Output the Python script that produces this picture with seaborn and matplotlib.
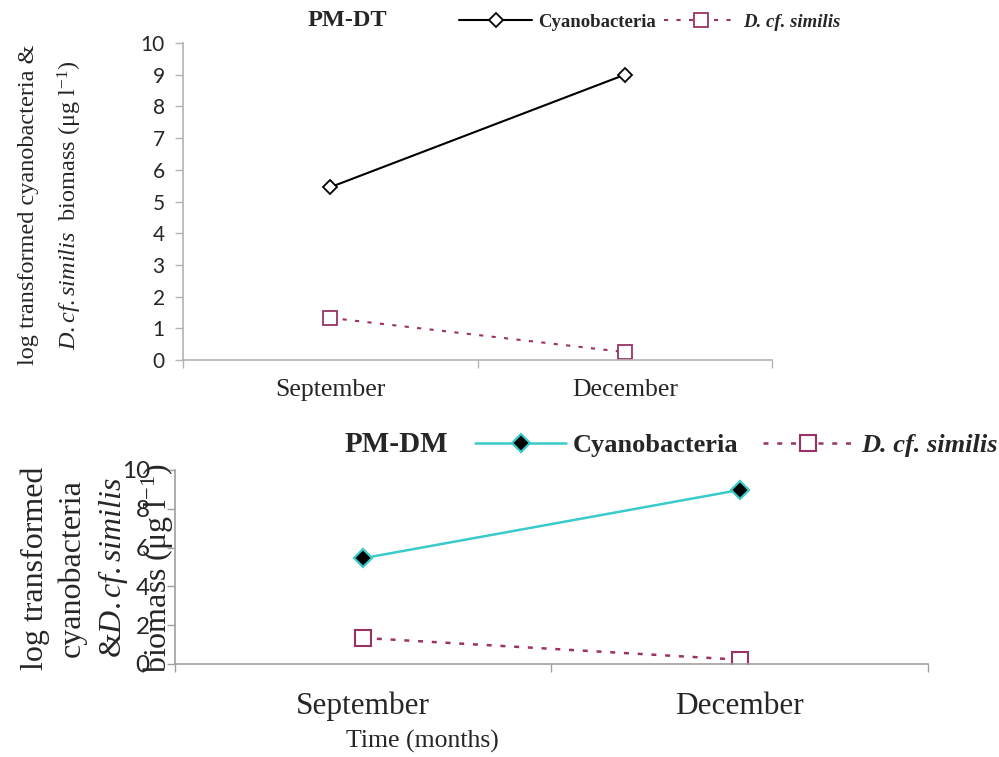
"""two panel line chart: cyanobacteria and D. cf. similis biomass, PM-DT and PM-DM"""

import pandas as pd
import seaborn as sns
import matplotlib.pyplot as plt

months = ["September", "December"]
dt_cyano = [5.45, 9.0]
dt_daphnia = [1.33, 0.25]
dm_cyano = [5.45, 8.97]
dm_daphnia = [1.34, 0.22]

SERIF = "Liberation Serif"
SANS = "Lato"
MAROON = "#993366"
CYAN = "#3ACACA"
AXIS_GRAY = "#b3b3b3"

sns.set_theme(style="white")
plt.rcParams["font.family"] = [SANS, "DejaVu Sans"]
plt.rcParams["mathtext.fontset"] = "custom"
plt.rcParams["mathtext.rm"] = SERIF
plt.rcParams["mathtext.it"] = SERIF + ":italic"


def frame(cyano, daphnia):
    x = [0, 1]
    return pd.DataFrame({"x": x, "month": months, "cyano": cyano, "daphnia": daphnia})


def style_axes(ax, tick_size, tick_pad, month_size, month_pad, ytick_step, spine_color):
    ax.set_xlim(-0.5, 1.5)
    ax.set_ylim(0, 10)
    ax.set_yticks(range(0, 11, ytick_step))
    ax.set_xticks([-0.5, 0.5, 1.5])
    ax.set_xticklabels([])
    ax.set_xticks([0, 1], minor=True)
    ax.set_xticklabels(months, minor=True, fontfamily=SERIF, fontsize=month_size)
    ax.tick_params(axis="x", which="minor", length=0, pad=month_pad)
    ax.tick_params(axis="x", which="major", direction="out", length=6, width=1,
                   color=spine_color, bottom=True)
    ax.tick_params(axis="y", direction="out", length=6, width=1, color=spine_color,
                   labelsize=tick_size, pad=tick_pad, left=True)
    for side in ["top", "right"]:
        ax.spines[side].set_visible(False)
    for side in ["left", "bottom"]:
        ax.spines[side].set_color(spine_color)
        ax.spines[side].set_linewidth(1.2)
    ax.set_xlabel("")
    ax.set_ylabel("")


fig = plt.figure(figsize=(9.99, 7.57), dpi=100)

# ---- top panel: PM-DT
ax1 = fig.add_axes([0.183, 0.5244, 0.590, 0.4188])
df1 = frame(dt_cyano, dt_daphnia)
sns.lineplot(data=df1, x="x", y="cyano", ax=ax1, color="black", linewidth=1.5,
             marker="D", markersize=7.5, markerfacecolor="white",
             markeredgecolor="black", markeredgewidth=1.3, label="Cyanobacteria")
sns.lineplot(data=df1, x="x", y="daphnia", ax=ax1, color=MAROON, linewidth=1.5,
             linestyle=(0, (2, 4)), marker="s", markersize=10,
             markerfacecolor="white", markeredgecolor=MAROON, markeredgewidth=1.3,
             label="D. cf. similis")
style_axes(ax1, 15, 7, 18.5, 14, 1, AXIS_GRAY)
leg1 = ax1.legend(loc="center left", bbox_to_anchor=(459 / 999, 1 - 22 / 757),
                  bbox_transform=fig.transFigure, ncol=2, frameon=False,
                  handlelength=3.9, handletextpad=0.3, columnspacing=0.45,
                  borderpad=0, borderaxespad=0,
                  prop={"family": SERIF, "weight": "bold", "size": 13.5})
leg1.get_texts()[1].set_style("italic")
fig.text(347 / 999, 1 - 20 / 757, "PM-DT", family=SERIF, weight="bold",
         fontsize=17.5, ha="center", va="center")
fig.text(51 / 999, 1 - 205 / 757,
         "log transformed cyanobacteria &\n"
         r"$\it{D.cf.similis}$  biomass ($\mathrm{\mu}$g l$^{-1}$)",
         family=SERIF, fontsize=17.5, rotation=90, ha="center", va="center",
         multialignment="center", linespacing=1.8)

# ---- bottom panel: PM-DM
ax2 = fig.add_axes([0.175, 0.1229, 0.754, 0.2563])
df2 = frame(dm_cyano, dm_daphnia)
sns.lineplot(data=df2, x="x", y="cyano", ax=ax2, color=CYAN, linewidth=1.8,
             marker="D", markersize=9, markerfacecolor="black",
             markeredgecolor=CYAN, markeredgewidth=1.6, label="Cyanobacteria")
sns.lineplot(data=df2, x="x", y="daphnia", ax=ax2, color=MAROON, linewidth=1.8,
             linestyle=(0, (2, 3.5)), marker="s", markersize=11,
             markerfacecolor="white", markeredgecolor=MAROON, markeredgewidth=1.5,
             label="D. cf. similis")
style_axes(ax2, 17.5, 12, 22.5, 20, 2, "#a0a0a0")
leg2 = ax2.legend(loc="center left", bbox_to_anchor=(475 / 999, 1 - 445 / 757),
                  bbox_transform=fig.transFigure, ncol=2, frameon=False,
                  handlelength=3.45, handletextpad=0.27, columnspacing=0.9,
                  borderpad=0, borderaxespad=0,
                  prop={"family": SERIF, "weight": "bold", "size": 19})
leg2.get_texts()[1].set_style("italic")
fig.text(396 / 999, 1 - 444 / 757, "PM-DM", family=SERIF, weight="bold",
         fontsize=21, ha="center", va="center")
fig.text(98 / 999, 1 - 568 / 757,
         "log transformed\ncyanobacteria\n"
         r"&$\it{D.cf.similis}$" "\n"
         r"biomass ($\mathrm{\mu}$g l$^{-1}$)",
         family=SERIF, fontsize=23, rotation=90, ha="center", va="center",
         multialignment="center", linespacing=1.35)
fig.text(422 / 999, 1 - 741 / 757, "Time (months)", family=SERIF, fontsize=18.5,
         ha="center", va="center")

fig.savefig("out.png", dpi=100)
